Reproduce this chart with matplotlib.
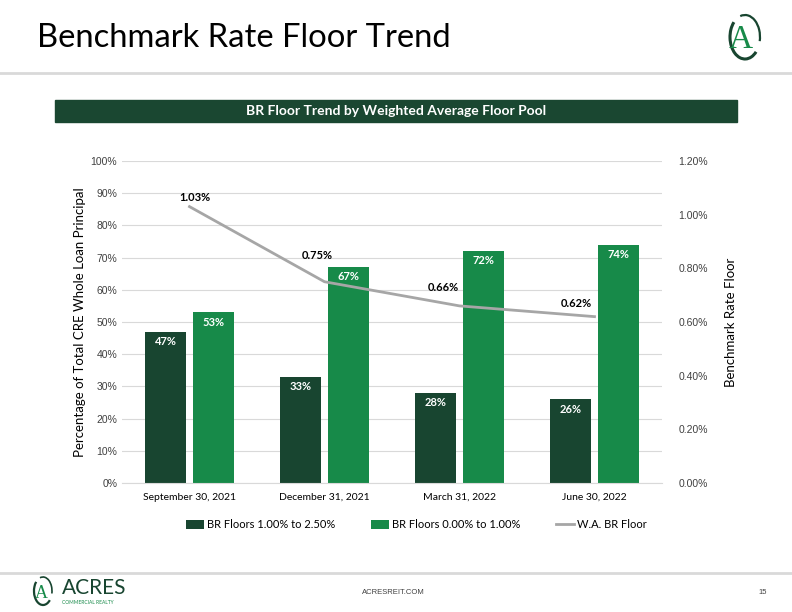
import matplotlib
matplotlib.use("Agg")
import matplotlib.pyplot as plt
from matplotlib.patches import Rectangle, Arc
from matplotlib.lines import Line2D
import numpy as np

categories = ["September 30, 2021", "December 31, 2021", "March 31, 2022", "June 30, 2022"]
floors_high = [47, 33, 28, 26]      # BR Floors 1.00% to 2.50%
floors_low = [53, 67, 72, 74]       # BR Floors 0.00% to 1.00%
wa_floor = [1.03, 0.75, 0.66, 0.62] # W.A. BR Floor (%)
left_ticks = [0, 10, 20, 30, 40, 50, 60, 70, 80, 90, 100]
right_ticks = [0.0, 0.2, 0.4, 0.6, 0.8, 1.0, 1.2]
# label offsets (points) for the line data labels
label_offsets = [(4, 6.5), (-5, 19), (-12, 13), (-13, 9.5)]

DARK = "#184530"
GREEN = "#178a49"
GRAY_LINE = "#a6a6a6"
BAND = "#1a4731"
FONT = ['Lato', 'DejaVu Sans']

plt.rcParams['font.family'] = ['Liberation Sans', 'DejaVu Sans']
fig = plt.figure(figsize=(7.92, 6.12), dpi=100)

# Title
fig.text(37/792, 1 - 38/612, "Benchmark Rate Floor Trend", fontsize=23.6, family=FONT,
         va='center', ha='left', color='black')
fig.add_artist(Line2D([0, 1], [1 - 73/612]*2, color='#d9d9d9', lw=2))
# header band
fig.add_artist(Rectangle((55/792, 1 - 122/612), (737-55)/792, 22/612, color=BAND, transform=fig.transFigure))
fig.text(396/792, 1 - 111/612, "BR Floor Trend by Weighted Average Floor Pool", color='white',
         fontsize=10, fontweight='bold', ha='center', va='center', family=FONT)

# top-right logo
fig.add_artist(Arc((745/792, 1 - 37/612), 30/792, 44/612, theta1=-20, theta2=100, ec=DARK, lw=1.6,
                   transform=fig.transFigure))
fig.add_artist(Arc((745/792, 1 - 37/612), 30/792, 44/612, theta1=120, theta2=300, ec=DARK, lw=2.2,
                   transform=fig.transFigure))
fig.text(741/792, 1 - 40/612, "A", color=GREEN, fontsize=24, family=['Liberation Serif'],
         ha='center', va='center')

# footer
fig.add_artist(Line2D([0, 1], [1 - 573/612]*2, color='#d9d9d9', lw=2))
fig.add_artist(Arc((43/792, 1 - 591/612), 18/792, 28/612, theta1=-20, theta2=100, ec=DARK, lw=1.2,
                   transform=fig.transFigure))
fig.add_artist(Arc((43/792, 1 - 591/612), 18/792, 28/612, theta1=120, theta2=300, ec=DARK, lw=1.6,
                   transform=fig.transFigure))
fig.text(41/792, 1 - 593/612, "A", color=GREEN, fontsize=13, family=['Liberation Serif'],
         ha='center', va='center')
fig.text(62/792, 1 - 588/612, "ACRES", color=DARK, fontsize=15, family=FONT, ha='left', va='center')
fig.text(62/792, 1 - 603/612, "COMMERCIAL REALTY", color=GREEN, fontsize=3.5, family=FONT, ha='left', va='center')
fig.text(393/792, 1 - 592/612, "ACRESREIT.COM", color='#404040', fontsize=5.5, ha='center', va='center')
fig.text(763/792, 1 - 592/612, "15", color='#404040', fontsize=5.5, ha='center', va='center')

# main axes
ax = fig.add_axes([122/792, 1 - 483/612, (662-122)/792, (483-161)/612])
x = np.arange(len(categories))
w = 0.305
off = 0.177
b1 = ax.bar(x - off, floors_high, w, color=DARK, label="BR Floors 1.00% to 2.50%", zorder=2)
b2 = ax.bar(x + off, floors_low, w, color=GREEN, label="BR Floors 0.00% to 1.00%", zorder=2)
for rects, vals in ((b1, floors_high), (b2, floors_low)):
    for r, v in zip(rects, vals):
        ax.annotate(f"{v}%", (r.get_x() + r.get_width()/2, v), xytext=(0, -7), textcoords='offset points',
                    ha='center', va='center', color='white', fontsize=8, fontweight='bold', family=FONT)
ax.set_xlim(-0.5, 3.5)
ax.set_ylim(0, 100)
ax.set_yticks(left_ticks)
ax.set_yticklabels([f"{t}%" for t in left_ticks])
ax.set_xticks(x)
ax.set_xticklabels(categories, family=FONT)
ax.grid(axis='y', color='#d9d9d9', lw=0.8, zorder=0)
ax.set_axisbelow(True)
for s in ['top', 'right', 'left']:
    ax.spines[s].set_visible(False)
ax.spines['bottom'].set_color('#d9d9d9')
ax.tick_params(axis='both', length=0, labelsize=7.5, colors='#404040')
ax.tick_params(axis='x', pad=7, labelsize=7.5, colors='black')
ax.set_ylabel("Percentage of Total CRE Whole Loan Principal", fontsize=9.5, family=FONT, labelpad=3)

ax2 = ax.twinx()
ln, = ax2.plot(x, wa_floor, color=GRAY_LINE, lw=2, label="W.A. BR Floor", zorder=3)
for xi, v, (dx, dy) in zip(x, wa_floor, label_offsets):
    ax2.annotate(f"{v:.2f}%", (xi, v), xytext=(dx, dy), textcoords='offset points',
                 ha='center', va='center', fontsize=8, fontweight='bold', family=FONT, color='black')
ax2.set_ylim(0, 1.2)
ax2.set_yticks(right_ticks)
ax2.set_yticklabels([f"{t:.2f}%" for t in right_ticks])
for s in ['top', 'right', 'left', 'bottom']:
    ax2.spines[s].set_visible(False)
ax2.tick_params(axis='y', length=0, labelsize=7.5, colors='#404040', pad=12)
ax2.set_ylabel("Benchmark Rate Floor", fontsize=9.5, family=FONT, labelpad=12)

handles = [b1, b2, ln]
labels = [h.get_label() for h in handles]
fig.legend(handles, labels, loc='center', bbox_to_anchor=(416/792, 1 - 525/612), ncol=3, frameon=False,
           prop={'family': FONT, 'size': 8},
           handlelength=1.7, handleheight=0.8, columnspacing=3.2, handletextpad=0.2)

fig.savefig("out.png", dpi=100)
